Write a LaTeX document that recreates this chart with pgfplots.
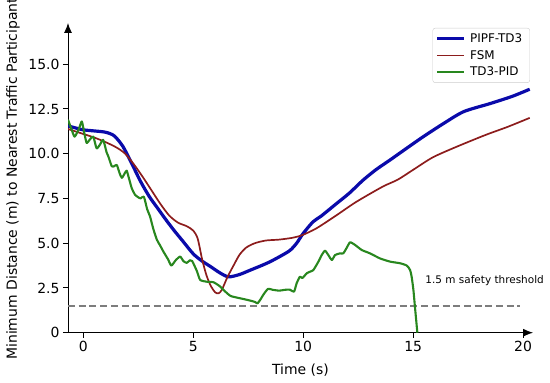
\documentclass[border=0pt]{standalone}
\usepackage{pgfplots}
\pgfplotsset{compat=1.18}
\usetikzlibrary{arrows.meta}
\usepackage{fontspec}
\setmainfont{DejaVu Sans}
\definecolor{cblue}{RGB}{10,10,170}
\definecolor{cred}{RGB}{140,28,28}
\definecolor{cgreen}{RGB}{40,135,30}
\definecolor{cgray}{RGB}{125,125,125}
\pgfplotsset{legend image code/.code={\draw[#1] (0bp,0bp) -- (26.7bp,0bp);}}

\begin{document}
\begin{tikzpicture}
\begin{axis}[
  scale only axis, width=465bp, height=309.7bp,
  xmin=-0.7, xmax=20.45, ymin=0, ymax=17.3,
  axis lines=left,
  axis line style={line width=0.9bp, -{Latex[length=10bp,width=8bp]}},
  xtick={0,5,10,15,20},
  ytick={0,2.5,5,7.5,10,12.5,15},
  yticklabels={0,2.5,5.0,7.5,10.0,12.5,15.0},
  tick align=outside,
  major tick length=5bp,
  tick style={black, line width=0.9bp},
  ticklabel style={font=\fontsize{14}{16}\selectfont},
  /pgf/number format/assume math mode=true,
  xlabel={Time (s)},
  ylabel={Minimum Distance (m) to Nearest Traffic Participant},
  label style={font=\fontsize{14}{16}\selectfont},
  xlabel style={at={(axis description cs:0.5,0)}, anchor=center, yshift=-37bp},
  ylabel style={at={(axis description cs:-0.118,0.5)}, anchor=center, xshift=-1bp},
  legend style={at={(rel axis cs:0.9935,0.984)}, anchor=north east,
    draw=black!20, rounded corners=2.5bp, font=\fontsize{12}{14}\selectfont,
    row sep=3.2bp, inner xsep=3bp, inner ysep=4bp,
    nodes={inner xsep=4.5bp, inner ysep=1.5bp}},
  legend cell align=left,
  line join=round,
]
\coordinate (ll) at (rel axis cs:0,0);
\coordinate (thr) at (axis cs:15.55,2.9);

\addplot[cgray, line width=1.5bp, dash pattern=on 7bp off 3.7bp, forget plot]
  coordinates {(-0.7,1.5) (19.85,1.5)};

\addplot[cblue, line width=3.2bp, smooth, tension=0.45] coordinates {
(-0.7,11.55) (-0.3,11.42) (0,11.33) (0.5,11.27) (1.0,11.2) (1.4,11.0)
(1.8,10.4) (2.2,9.45) (2.6,8.45) (3.0,7.6) (3.35,7.0) (3.7,6.4)
(4.1,5.75) (4.5,5.15) (5.0,4.4) (5.4,4.0) (5.8,3.68) (6.2,3.35)
(6.6,3.12) (7.1,3.25) (7.6,3.5) (8.1,3.75) (8.5,3.97) (9.0,4.3)
(9.4,4.6) (9.7,5.0) (10.0,5.55) (10.45,6.2) (10.8,6.5) (11.5,7.2)
(12.1,7.8) (12.7,8.5) (13.3,9.1) (13.95,9.65) (14.7,10.3) (15.46,10.95)
(16.4,11.7) (17.3,12.35) (18.5,12.8) (19.5,13.2) (20.3,13.6)
};
\addlegendentry{PIPF-TD3}

\addplot[cred, line width=1.7bp, smooth, tension=0.45] coordinates {
(-0.7,11.38) (0,11.1) (0.5,10.9) (1.0,10.65) (1.5,10.35) (1.9,10.0)
(2.3,9.4) (2.7,8.7) (3.1,7.95) (3.5,7.2) (3.9,6.55) (4.3,6.15)
(4.7,5.95) (5.0,5.7) (5.2,5.25) (5.4,4.1) (5.6,3.2) (5.8,2.6)
(6.0,2.25) (6.15,2.2) (6.3,2.4) (6.55,3.1) (6.85,3.8) (7.1,4.35)
(7.4,4.75) (7.8,5.0) (8.3,5.15) (8.9,5.2) (9.5,5.3) (9.95,5.45)
(10.6,5.83) (11.5,6.55) (12.4,7.3) (13.6,8.15) (14.3,8.55) (15.0,9.1)
(15.9,9.8) (17.0,10.4) (18.3,11.05) (19.3,11.5) (20.3,12.0)
};
\addlegendentry{FSM}

\addplot[cgreen, line width=2.1bp, smooth, tension=0.35] coordinates {
(-0.7,11.9) (-0.55,11.4) (-0.4,10.95) (-0.2,11.4) (-0.07,11.8) (0.05,11.1)
(0.15,10.6) (0.3,10.8) (0.45,10.95) (0.6,10.3) (0.75,10.5) (0.9,10.77)
(1.05,10.1) (1.14,9.83) (1.29,9.3) (1.4,9.3) (1.52,9.37) (1.65,8.9)
(1.75,8.65) (1.88,8.9) (1.97,9.05) (2.1,8.5) (2.2,8.07) (2.35,7.7)
(2.45,7.6) (2.6,7.5) (2.75,7.6) (2.9,6.9) (3.03,6.5) (3.18,5.8)
(3.34,5.2) (3.5,4.85) (3.64,4.53) (3.85,4.1) (4.0,3.75) (4.2,4.05)
(4.4,4.25) (4.55,4.0) (4.7,3.9) (4.85,4.05) (4.95,4.0) (5.16,3.45)
(5.31,2.95) (5.6,2.85) (5.91,2.82) (6.2,2.6) (6.45,2.3) (6.7,2.05)
(7.1,1.93) (7.5,1.82) (7.8,1.72) (7.92,1.64) (8.05,1.85) (8.2,2.15)
(8.4,2.45) (8.6,2.4) (8.9,2.35) (9.2,2.4) (9.4,2.4) (9.58,2.29)
(9.7,2.76) (9.85,3.13) (9.96,3.05) (10.16,3.32) (10.31,3.41) (10.46,3.5)
(10.69,3.97) (10.84,4.34) (10.99,4.58) (11.14,4.34) (11.3,4.06) (11.45,4.34)
(11.67,4.43) (11.82,4.43) (11.98,4.75) (12.13,5.05) (12.36,4.9) (12.66,4.62)
(13.04,4.43) (13.49,4.15) (13.95,3.97) (14.4,3.88) (14.71,3.75) (14.86,3.5)
(14.93,3.13) (15.01,2.39) (15.08,1.45) (15.19,0.0)
};
\addlegendentry{TD3-PID}
\end{axis}
\node[anchor=west, font=\fontsize{10.5}{12}\selectfont, inner sep=0pt] at (thr) {1.5 m safety threshold};
\pgfresetboundingbox
\path[use as bounding box] (ll) ++(-68bp,-50.3bp) rectangle ++(550bp,383bp);
\end{tikzpicture}
\end{document}
